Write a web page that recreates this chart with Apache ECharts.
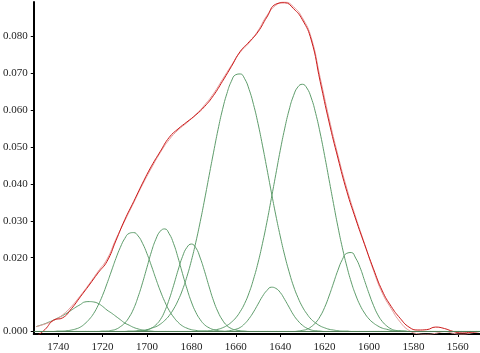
<!DOCTYPE html>
<html>
<head>
<meta charset="utf-8">
<script src="https://cdn.jsdelivr.net/npm/echarts@6/dist/echarts.min.js"></script>
<style>
  body { margin: 0; background: #fff; }
  #main { width: 480px; height: 353px; }
</style>
</head>
<body>
<div id="main"></div>
<script>
// spectrum grid (cm-1), one point every 4 cm-1
var spectrumX = [1750,1746,1742,1738,1734,1730,1726,1722,1718,1714,
                 1710,1706,1702,1698,1694,1690,1686,1682,1678,1674,
                 1670,1666,1662,1658,1654,1650,1646,1642,1638,1634,
                 1630,1626,1622,1618,1614,1610,1606,1602,1598,1594,
                 1590,1586,1582,1578,1574,1570,1566,1562,1558,1554,
                 1550];

// measured spectrum and fitted sum
var measured = [-0.0014,0.0005,0.0031,0.0037,0.0062,0.0094,0.0126,0.0159,0.0190,0.0246,
                0.0303,0.0352,0.0402,0.0448,0.0488,0.0526,0.0549,0.0568,0.0587,0.0610,
                0.0640,0.0678,0.0718,0.0759,0.0785,0.0812,0.0852,0.0887,0.0891,0.0875,
                0.0845,0.0790,0.0678,0.0568,0.0470,0.0380,0.0305,0.0236,0.0170,0.0110,
                0.0068,0.0036,0.0012,0.0004,0.0005,0.0012,0.0008,0.0000,-0.0004,-0.0002,
                0.0000];
var fitted = [0.0013,0.0020,0.0030,0.0045,0.0068,0.0097,0.0129,0.0163,0.0196,0.0250,
              0.0300,0.0349,0.0398,0.0443,0.0485,0.0520,0.0546,0.0566,0.0588,0.0614,
              0.0645,0.0683,0.0721,0.0757,0.0782,0.0815,0.0856,0.0884,0.0893,0.0880,
              0.0850,0.0796,0.0688,0.0578,0.0478,0.0388,0.0310,0.0238,0.0166,0.0104,
              0.0062,0.0026,0.0003,-0.0006,-0.0008,-0.0005,0.0000,-0.0005,-0.0008,-0.0004,
              0.0000];

// component band grid (cm-1), one point every 2 cm-1
var bandX = [1750,1748,1746,1744,1742,1740,1738,1736,1734,1732,
             1730,1728,1726,1724,1722,1720,1718,1716,1714,1712,
             1710,1708,1706,1704,1702,1700,1698,1696,1694,1692,
             1690,1688,1686,1684,1682,1680,1678,1676,1674,1672,
             1670,1668,1666,1664,1662,1660,1658,1656,1654,1652,
             1650,1648,1646,1644,1642,1640,1638,1636,1634,1632,
             1630,1628,1626,1624,1622,1620,1618,1616,1614,1612,
             1610,1608,1606,1604,1602,1600,1598,1596,1594,1592,
             1590,1588,1586,1584,1582,1580,1578,1576,1574,1572,
             1570,1568,1566,1564,1562,1560,1558,1556,1554,1552,
             1550];

var band1 = [0.0013,0.0017,0.0021,0.0026,0.0031,0.0037,0.0043,0.0050,0.0058,0.0066,
             0.0073,0.0080,0.0081,0.0080,0.0076,0.0068,0.0058,0.0050,0.0041,0.0032,
             0.0023,0.0017,0.0011,0.0007,0.0004,0.0002,0.0001,0,0,0,
             0,0,0,0,0,0,0,0,0,0,
             0,0,0,0,0,0,0,0,0,0,
             0,0,0,0,0,0,0,0,0,0,
             0,0,0,0,0,0,0,0,0,0,
             0,0,0,0,0,0,0,0,0,0,
             0,0,0,0,0,0,0,0,0,0,
             0,0,0,0,0,0,0,0,0,0,
             0];
var band2 = [0,0,0,0,0,0.0001,0.0001,0.0002,0.0004,0.0007,
             0.0012,0.0021,0.0033,0.0049,0.0071,0.0098,0.0130,0.0164,0.0198,0.0228,
             0.0252,0.0266,0.0268,0.0259,0.0239,0.0211,0.0178,0.0143,0.0110,0.0081,
             0.0057,0.0039,0.0025,0.0015,0.0009,0.0005,0.0003,0.0001,0.0001,0,
             0,0,0,0,0,0,0,0,0,0,
             0,0,0,0,0,0,0,0,0,0,
             0,0,0,0,0,0,0,0,0,0,
             0,0,0,0,0,0,0,0,0,0,
             0,0,0,0,0,0,0,0,0,0,
             0,0,0,0,0,0,0,0,0,0,
             0];
var band3 = [0,0,0,0,0,0,0,0,0,0,
             0,0,0,0,0,0.0001,0.0001,0.0003,0.0006,0.0013,
             0.0023,0.0039,0.0062,0.0094,0.0132,0.0174,0.0216,0.0250,0.0272,0.0278,
             0.0265,0.0238,0.0200,0.0157,0.0116,0.0080,0.0052,0.0032,0.0018,0.0010,
             0.0005,0.0002,0.0001,0,0,0,0,0,0,0,
             0,0,0,0,0,0,0,0,0,0,
             0,0,0,0,0,0,0,0,0,0,
             0,0,0,0,0,0,0,0,0,0,
             0,0,0,0,0,0,0,0,0,0,
             0,0,0,0,0,0,0,0,0,0,
             0];
var band4 = [0,0,0,0,0,0,0,0,0,0,
             0,0,0,0,0,0,0,0,0,0,
             0,0,0,0.0001,0.0002,0.0004,0.0009,0.0018,0.0032,0.0055,
             0.0087,0.0125,0.0166,0.0203,0.0228,0.0237,0.0227,0.0199,0.0162,0.0121,
             0.0083,0.0053,0.0031,0.0016,0.0008,0.0004,0.0002,0.0001,0,0,
             0,0,0,0,0,0,0,0,0,0,
             0,0,0,0,0,0,0,0,0,0,
             0,0,0,0,0,0,0,0,0,0,
             0,0,0,0,0,0,0,0,0,0,
             0,0,0,0,0,0,0,0,0,0,
             0];
var band5 = [0,0,0,0,0,0,0,0,0,0,
             0,0,0,0,0,0,0,0,0,0,
             0,0.0001,0.0001,0.0002,0.0003,0.0005,0.0009,0.0013,0.0020,0.0030,
             0.0043,0.0061,0.0084,0.0113,0.0149,0.0192,0.0242,0.0298,0.0359,0.0423,
             0.0486,0.0547,0.0601,0.0645,0.0678,0.0696,0.0698,0.0685,0.0656,0.0615,
             0.0564,0.0505,0.0442,0.0378,0.0316,0.0259,0.0207,0.0162,0.0123,0.0092,
             0.0067,0.0048,0.0033,0.0023,0.0015,0.0010,0.0006,0.0004,0.0002,0.0001,
             0.0001,0,0,0,0,0,0,0,0,0,
             0,0,0,0,0,0,0,0,0,0,
             0,0,0,0,0,0,0,0,0,0,
             0];
var band6 = [0,0,0,0,0,0,0,0,0,0,
             0,0,0,0,0,0,0,0,0,0,
             0,0,0,0,0,0,0,0,0,0,
             0,0,0,0,0,0,0,0,0,0,
             0,0,0,0.0001,0.0003,0.0006,0.0011,0.0021,0.0035,0.0053,
             0.0074,0.0095,0.0111,0.0120,0.0117,0.0106,0.0087,0.0066,0.0045,0.0029,
             0.0017,0.0009,0.0004,0.0002,0.0001,0,0,0,0,0,
             0,0,0,0,0,0,0,0,0,0,
             0,0,0,0,0,0,0,0,0,0,
             0,0,0,0,0,0,0,0,0,0,
             0];
var band7 = [0,0,0,0,0,0,0,0,0,0,
             0,0,0,0,0,0,0,0,0,0,
             0,0,0,0,0,0,0,0,0,0,
             0,0,0,0,0,0,0,0.0001,0.0001,0.0002,
             0.0004,0.0006,0.0010,0.0016,0.0025,0.0037,0.0054,0.0076,0.0105,0.0142,
             0.0186,0.0238,0.0296,0.0360,0.0425,0.0490,0.0549,0.0600,0.0639,0.0663,
             0.0670,0.0660,0.0633,0.0591,0.0538,0.0477,0.0412,0.0347,0.0284,0.0227,
             0.0177,0.0134,0.0099,0.0071,0.0050,0.0034,0.0023,0.0015,0.0009,0.0006,
             0.0003,0.0002,0.0001,0.0001,0,0,0,0,0,0,
             0,0,0,0,0,0,0,0,0,0,
             0];
var band8 = [0,0,0,0,0,0,0,0,0,0,
             0,0,0,0,0,0,0,0,0,0,
             0,0,0,0,0,0,0,0,0,0,
             0,0,0,0,0,0,0,0,0,0,
             0,0,0,0,0,0,0,0,0,0,
             0,0,0,0,0,0,0,0,0,0.0001,
             0.0003,0.0006,0.0013,0.0024,0.0041,0.0065,0.0096,0.0131,0.0166,0.0195,
             0.0212,0.0214,0.0199,0.0173,0.0138,0.0103,0.0071,0.0045,0.0027,0.0015,
             0.0007,0.0003,0.0002,0.0001,0,0,0,0,0,0,
             0,0,0,0,0,0,0,0,0,0,
             0];

var xTicks = [1740,1720,1700,1680,1660,1640,1620,1600,1580,1560];
var yTicks = [0,0.02,0.03,0.04,0.05,0.06,0.07,0.08];

var bands = [band1,band2,band3,band4,band5,band6,band7,band8];

function pairs(xs, values) {
    return xs.map(function (w, i) { return [w, values[i]]; });
}

var labelFont = {
    fontFamily: 'Liberation Serif',
    fontSize: 11,
    color: '#222'
};

var series = bands.map(function (b, i) {
    var s = {
        name: 'band' + (i + 1),
        type: 'line',
        data: pairs(bandX, b),
        smooth: true,
        symbol: 'none',
        lineStyle: { color: '#5e9c6b', width: 1 }
    };
    if (i === 0) {
        s.markLine = {
            silent: true,
            symbol: 'none',
            label: { show: false },
            lineStyle: { color: '#4f7d56', width: 1, type: 'solid' },
            data: [{ yAxis: 0 }]
        };
    }
    return s;
});
series.push({
    name: 'fit',
    type: 'line',
    data: pairs(spectrumX, fitted),
    smooth: true,
    symbol: 'none',
    lineStyle: { color: '#e39a9a', width: 1 }
});
series.push({
    name: 'measured',
    type: 'line',
    data: pairs(spectrumX, measured),
    smooth: true,
    symbol: 'none',
    lineStyle: { color: '#cc1a1a', width: 1 }
});

var myChart = echarts.init(document.getElementById('main'));
var option = {
    animation: false,
    backgroundColor: '#fff',
    grid: { left: 33, right: 0, top: 2, bottom: 18.5 },
    xAxis: {
        type: 'value',
        min: 1550,
        max: 1751,
        inverse: true,
        axisLine: { onZero: false, lineStyle: { color: '#000', width: 2 } },
        axisTick: { customValues: xTicks, length: 3, lineStyle: { color: '#000' } },
        axisLabel: Object.assign({
            customValues: xTicks,
            margin: 8,
            formatter: function (v) { return String(v); }
        }, labelFont),
        splitLine: { show: false }
    },
    yAxis: {
        type: 'value',
        min: -0.00068,
        max: 0.0893,
        axisLine: { show: true, onZero: false, lineStyle: { color: '#000', width: 2 } },
        axisTick: { show: true, customValues: yTicks, length: 3, lineStyle: { color: '#000' } },
        axisLabel: Object.assign({
            customValues: yTicks,
            margin: 6,
            formatter: function (v) { return v.toFixed(3); }
        }, labelFont),
        splitLine: { show: false }
    },
    series: series
};
myChart.setOption(option);
</script>
</body>
</html>
